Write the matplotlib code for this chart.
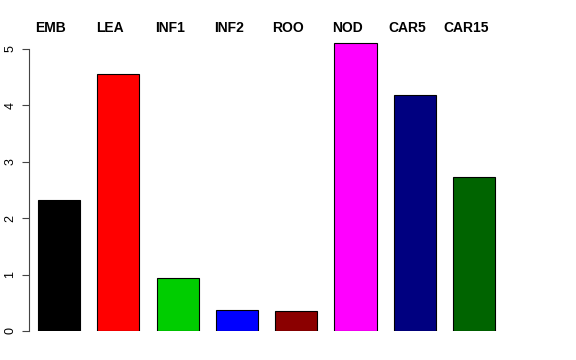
import numpy as np
import matplotlib
matplotlib.use("Agg")
import matplotlib.pyplot as plt

plt.rcParams['font.family'] = ['Liberation Sans', 'DejaVu Sans']

tissues = ["EMB", "LEA", "INF1", "INF2", "ROO", "NOD", "CAR5", "CAR15"]
values = [2.32, 4.56, 0.94, 0.37, 0.35, 5.11, 4.18, 2.73]
colors = ["black", "red", "#00CD00", "blue", "#8B0000", "magenta", "#000080", "#006400"]
yticks = [0, 1, 2, 3, 4, 5]

fig = plt.figure(figsize=(5.76, 3.6), dpi=100)
# axes placed in pixel terms: spine at x=29, zero line at y=331
ax = fig.add_axes([29/576, 29/360, (510-29)/576, (331-32)/360])

x = np.arange(len(tissues))
ax.bar(x, values, width=0.71, color=colors, edgecolor="black", linewidth=0.8)

ax.set_xlim(-30/59.3, (510-59)/59.3)
ax.set_ylim(0, (331-32)/56.4)

for s in ["top", "right", "bottom"]:
    ax.spines[s].set_visible(False)
ax.spines["left"].set_bounds(0, 5)
ax.spines["left"].set_color("#444444")
ax.set_xticks([])
ax.set_yticks(yticks)
ax.set_yticklabels([str(t) for t in yticks], rotation=90, va="center", fontsize=9)
ax.tick_params(axis="y", length=5, color="#444444", pad=4)

# tissue names in a row above the bars (pixel row ~28)
label_y = (331 - 28) / (331 - 32)
for xi, name in zip(x, tissues):
    ax.text(xi - 8/59.3, label_y, name, transform=ax.get_xaxis_transform(),
            ha="center", va="center", fontsize=10, fontweight="bold")

fig.savefig("out.png", dpi=100)
